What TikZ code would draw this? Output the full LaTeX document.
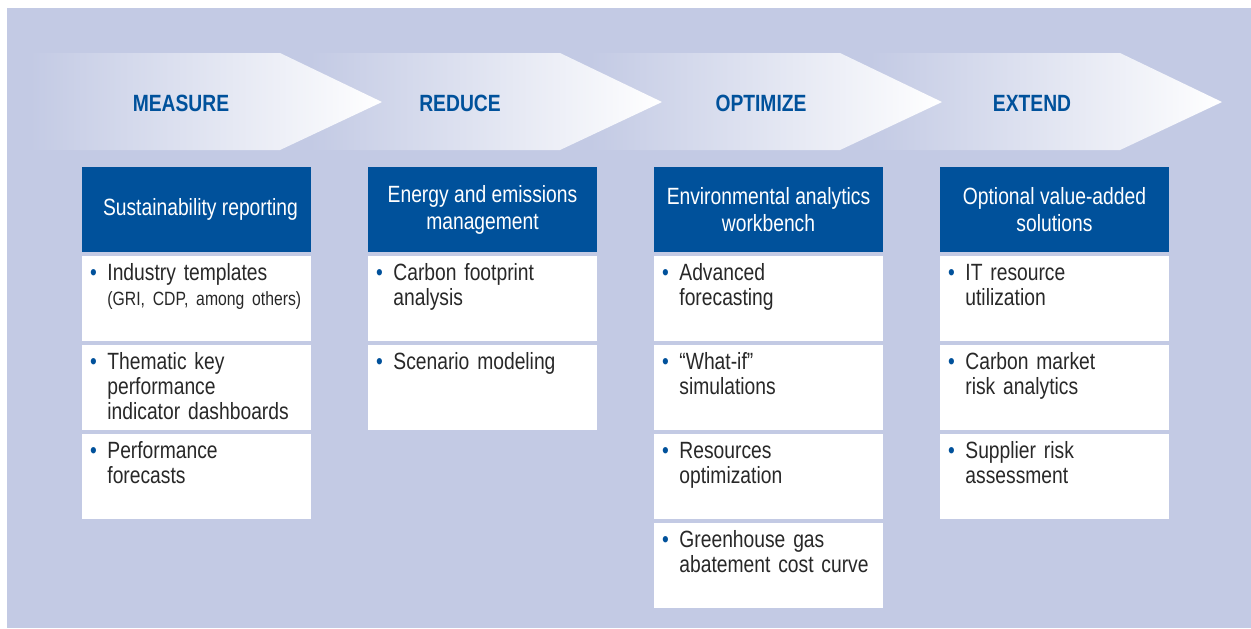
\documentclass[tikz,border=0pt]{standalone}
\usepackage{fontspec}
\setmainfont[FakeStretch=0.82]{Liberation Sans}
\usetikzlibrary{positioning}
\frenchspacing

\definecolor{panel}{RGB}{195,202,228}
\definecolor{deepblue}{RGB}{0,81,155}
\definecolor{bodytext}{RGB}{40,40,40}

% bullet hanging left of the item text
\newcommand{\itm}{\leftskip=12.5pt\rightskip=0pt plus 1fil\noindent\llap{\textcolor{deepblue}{\textbullet}\hspace{5.3pt}}}
\newcommand{\itmend}{\par}

\begin{document}
\begin{tikzpicture}[x=0.5pt,y=-0.5pt]
  \tikzstyle{chevron}=[left color=panel, right color=white]
  \tikzstyle{stage}=[text=deepblue, font=\fontsize{11.75}{14}\selectfont\bfseries]
  \tikzstyle{head}=[fill=deepblue, text=white, minimum width=114.5pt, minimum height=42.5pt, inner sep=0pt, align=center, font=\fontsize{11.75}{13.5}\selectfont]
  \tikzstyle{item}=[fill=white, anchor=north west, inner sep=0pt, text width=114.5pt, text height=12pt, text depth=30.5pt, text=bodytext, font=\fontsize{11.75}{12.5}\selectfont]

  % Page and panel
  \fill[white] (0,0) rectangle (1251,628);
  \useasboundingbox (0,0) rectangle (1251,628);
  \fill[panel] (7,8) rectangle (1251,628);

  % Draw the arrows, last one first so that each tip lies on top
  \foreach \i in {3,2,1,0}
    \shade[chevron,xshift=\i*140pt] (30,53) -- (280,53) -- (382,102) -- (280,150) -- (30,150) -- cycle;

  % Stage names
  \foreach \name/\x/\txt in {1/181/MEASURE,2/460/REDUCE,3/761/OPTIMIZE,4/1032/EXTEND}
    \node[stage] (S-\name) at (\x,103) {\txt};

  % Column headers
  \foreach \name/\x/\txt in {1/196.5/{\hspace*{4pt}Sustainability reporting},2/482.5/{Energy and emissions\\management},3/768.5/{Environmental analytics\\workbench},4/1054.5/{Optional value-added\\solutions}}
    \node[head] (C-\name) at (\x,209.5) {\txt};

  % Items below each header
  \foreach \txt [count=\j] in {{Industry templates\\{\fontsize{9.6}{12.5}\selectfont(GRI, CDP, among others)}},{Thematic key\\performance\\indicator dashboards},{Performance\\forecasts}}
    \node[item] (C-1-\j) at (82,{167+89*\j}) {\itm\txt\itmend};
  \foreach \txt [count=\j] in {{Carbon footprint\\analysis},{Scenario modeling}}
    \node[item] (C-2-\j) at (368,{167+89*\j}) {\itm\txt\itmend};
  \foreach \txt [count=\j] in {{Advanced\\forecasting},{“What-if”\\simulations},{Resources\\optimization},{Greenhouse gas\\abatement cost curve}}
    \node[item] (C-3-\j) at (654,{167+89*\j}) {\itm\txt\itmend};
  \foreach \txt [count=\j] in {{IT resource\\utilization},{Carbon market\\risk analytics},{Supplier risk\\assessment}}
    \node[item] (C-4-\j) at (940,{167+89*\j}) {\itm\txt\itmend};
\end{tikzpicture}
\end{document}
